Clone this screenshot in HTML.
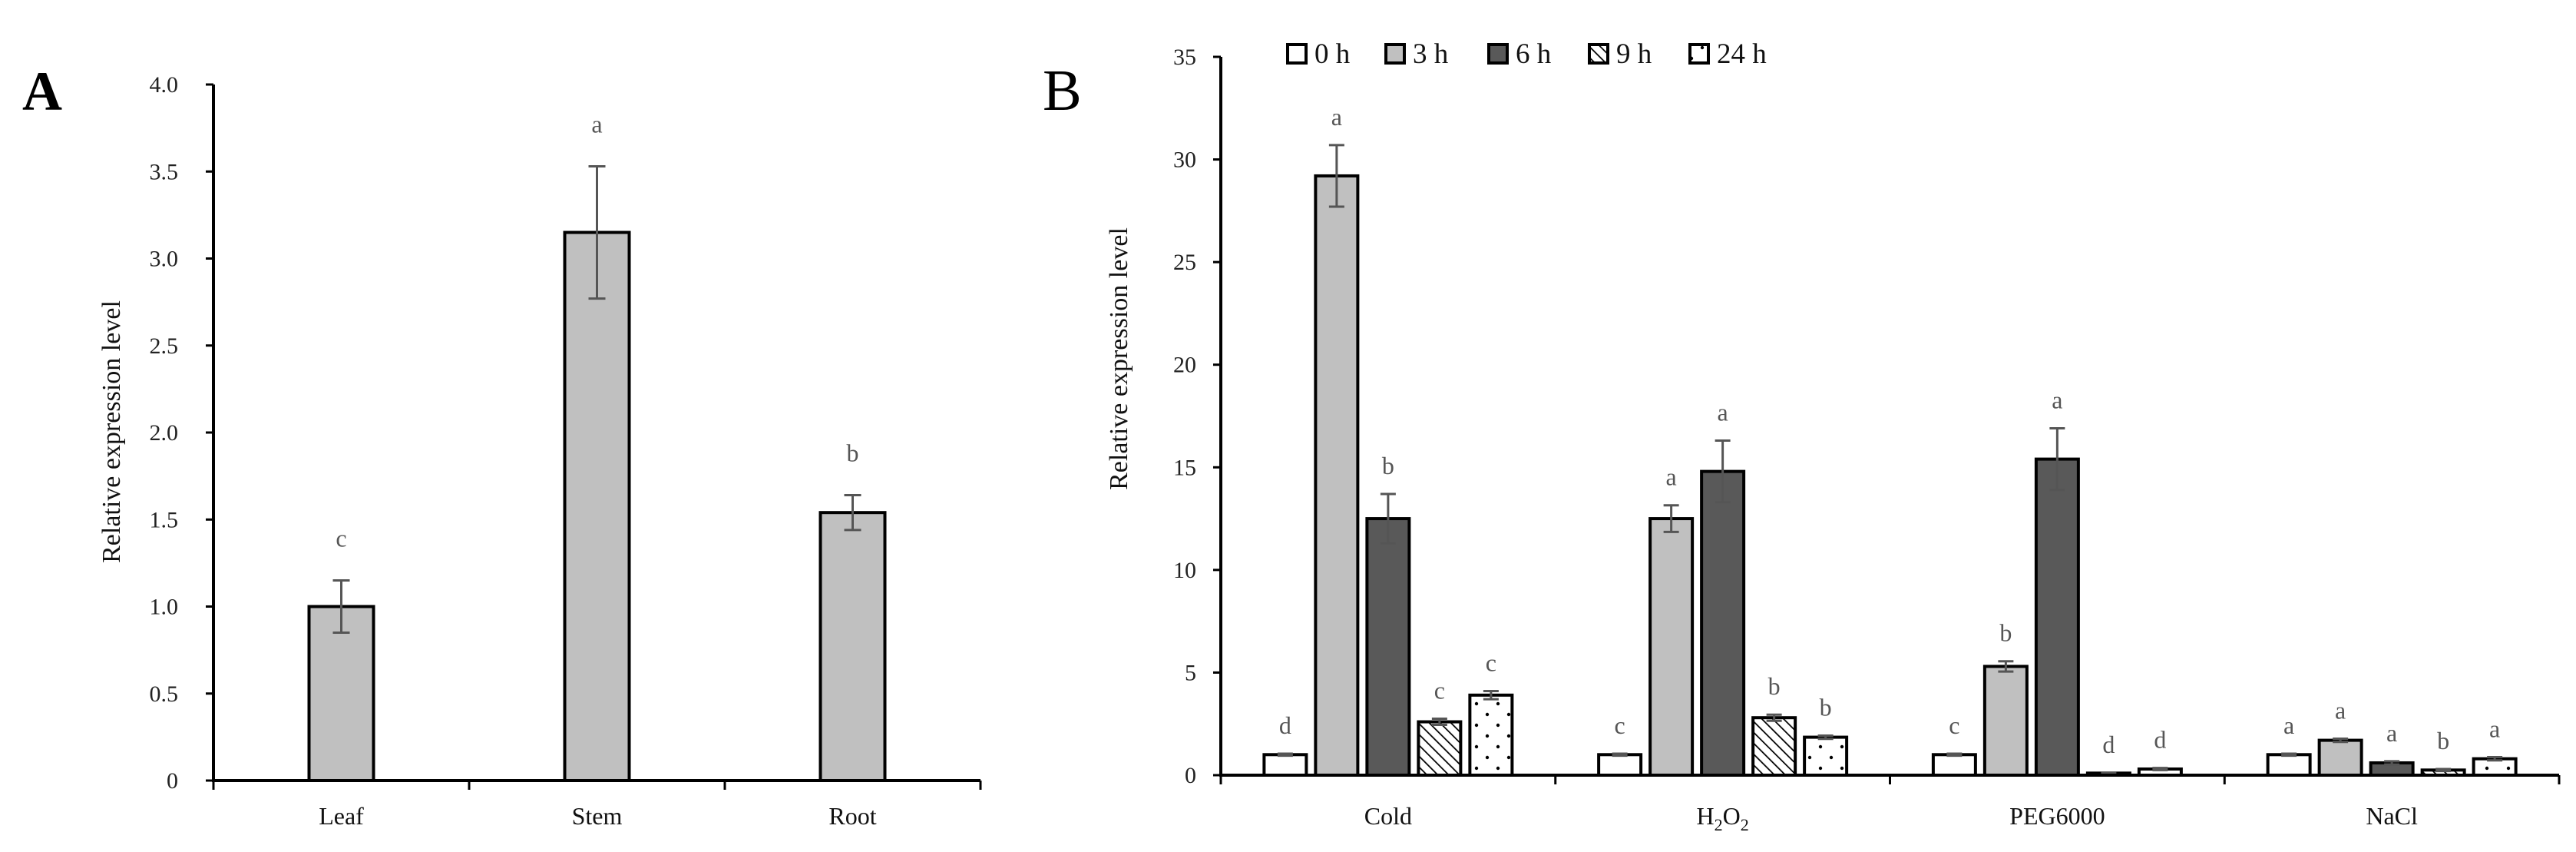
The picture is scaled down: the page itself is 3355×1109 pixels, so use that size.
<!DOCTYPE html>
<html><head><meta charset="utf-8"><style>
html,body{margin:0;padding:0;background:#fff;}
svg{display:block;font-family:"Liberation Serif","DejaVu Serif",serif;}
</style></head><body>
<svg id="fig" width="3355" height="1109" viewBox="0 0 3355 1109" xmlns="http://www.w3.org/2000/svg">
<defs>
<pattern id="hatch" patternUnits="userSpaceOnUse" width="10" height="10" patternTransform="rotate(-45)">
<rect width="10" height="10" fill="#fff"/><line x1="0" y1="0" x2="0" y2="10" stroke="#000" stroke-width="3.5"/></pattern>
<pattern id="dots" patternUnits="userSpaceOnUse" width="28" height="28">
<rect width="28" height="28" fill="#fff"/><circle cx="5" cy="6" r="2.2" fill="#000"/><circle cx="19" cy="20" r="2.2" fill="#000"/></pattern>
</defs>
<g id="chartA"></g>
<g id="chartB"></g>
</svg>
<script>
// ---- Chart A data ----
const aCategories = ["Leaf","Stem","Root"];
const aValues = [1.0, 3.15, 1.54];
const aErrors = [0.15, 0.38, 0.10];
const aLetters = ["c","a","b"];
const aTicks = [0,0.5,1.0,1.5,2.0,2.5,3.0,3.5,4.0];
const aTickLabels = ["0","0.5","1.0","1.5","2.0","2.5","3.0","3.5","4.0"];
// ---- Chart B data ----
const bCategories = ["Cold","H2O2","PEG6000","NaCl"];
const bSeries = ["0 h","3 h","6 h","9 h","24 h"];
const b0h = [1.0, 1.0, 1.0, 1.0];
const b3h = [29.2, 12.5, 5.3, 1.7];
const b6h = [12.5, 14.8, 15.4, 0.6];
const b9h = [2.6, 2.8, 0.1, 0.25];
const b24h = [3.9, 1.85, 0.3, 0.8];
const bErr0h = [0.05, 0.05, 0.05, 0.05];
const bErr3h = [1.5, 0.65, 0.25, 0.08];
const bErr6h = [1.2, 1.5, 1.5, 0.08];
const bErr9h = [0.15, 0.15, 0.02, 0.05];
const bErr24h = [0.2, 0.08, 0.05, 0.08];
const bLet0h = ["d","c","c","a"];
const bLet3h = ["a","a","b","a"];
const bLet6h = ["b","a","a","a"];
const bLet9h = ["c","b","d","b"];
const bLet24h = ["c","b","d","a"];
const bTicks = [0,5,10,15,20,25,30,35];

const NS="http://www.w3.org/2000/svg";
function mk(parent,tag,attrs,text){const e=document.createElementNS(NS,tag);for(const k in attrs)e.setAttribute(k,attrs[k]);if(text!==undefined)e.textContent=text;parent.appendChild(e);return e;}

// ---------- Chart A ----------
(function(){
const g=document.getElementById('chartA');
const x0=278,x1=1277,y0=1016,yTop=110,max=4;
const y=v=>y0-(v/max)*(y0-yTop);
const cw=(x1-x0)/aCategories.length;
let t;
t=mk(g,'text',{x:29,y:143,'font-size':72,'font-weight':'bold'},'A');

aTicks.forEach((v,i)=>{
 const l=mk(g,'line',{x1:x0-10,x2:x0,y1:y(v),y2:y(v),stroke:'#000','stroke-width':3});
 
 const tl=mk(g,'text',{x:232,y:y(v)+10,'font-size':30,'text-anchor':'end',fill:'#222'},aTickLabels[i]);
 
});
t=mk(g,'text',{x:0,y:0,'font-size':34,'text-anchor':'middle',transform:'translate(156,562) rotate(-90)',fill:'#111'},'Relative expression level');

for(let i=0;i<=aCategories.length;i++){
 const l=mk(g,'line',{x1:x0+i*cw,x2:x0+i*cw,y1:y0,y2:y0+12,stroke:'#000','stroke-width':3});
 
}
aCategories.forEach((c,i)=>{
 const cx=x0+cw*(i+0.5),bw=84;
 const r=mk(g,'rect',{x:cx-bw/2,y:y(aValues[i]),width:bw,height:y0-y(aValues[i]),fill:'#c0c0c0',stroke:'#000','stroke-width':4});
 
 const eT=y(aValues[i]+aErrors[i]),eB=y(aValues[i]-aErrors[i]);
 const e=mk(g,'path',{d:`M${cx},${eT}V${eB}M${cx-11},${eT}H${cx+11}M${cx-11},${eB}H${cx+11}`,stroke:'#555','stroke-width':3,fill:'none'});
 
 const lt=mk(g,'text',{x:cx,y:eT-44,'font-size':32,'text-anchor':'middle',fill:'#555'},aLetters[i]);
 
 const cl=mk(g,'text',{x:cx,y:1073,'font-size':32,'text-anchor':'middle',fill:'#111'},c);
 
});
const ax=mk(g,'path',{d:`M${x0},${yTop}V${y0}H${x1}`,stroke:'#000','stroke-width':4,fill:'none'});

})();

// ---------- Chart B ----------
(function(){
const g=document.getElementById('chartB');
const x0=1590,x1=3333,y0=1009,yTop=74,max=35;
const y=v=>y0-(v/max)*(y0-yTop);
const cw=(x1-x0)/bCategories.length;
const vals=[b0h,b3h,b6h,b9h,b24h];
const errs=[bErr0h,bErr3h,bErr6h,bErr9h,bErr24h];
const lets=[bLet0h,bLet3h,bLet6h,bLet9h,bLet24h];
const fills=['#fff','#c0c0c0','#595959','url(#hatch)','url(#dots)'];
let t;
t=mk(g,'text',{x:1358,y:143,'font-size':76},'B');

bTicks.forEach(v=>{
 const l=mk(g,'line',{x1:x0-10,x2:x0,y1:y(v),y2:y(v),stroke:'#000','stroke-width':3});
 
 const tl=mk(g,'text',{x:1558,y:y(v)+10,'font-size':30,'text-anchor':'end',fill:'#222'},String(v));
 
});
t=mk(g,'text',{x:0,y:0,'font-size':34,'text-anchor':'middle',transform:'translate(1468,467) rotate(-90)',fill:'#111'},'Relative expression level');

for(let i=0;i<=bCategories.length;i++){
 const l=mk(g,'line',{x1:x0+i*cw,x2:x0+i*cw,y1:y0,y2:y0+12,stroke:'#000','stroke-width':3});
 
}
const bw=55,pitch=67;
bCategories.forEach((c,i)=>{
 const cx=x0+cw*(i+0.5);
 vals.forEach((arr,s)=>{
  const bx=cx-2*pitch+s*pitch-bw/2,v=arr[i];
  const r=mk(g,'rect',{x:bx,y:y(v),width:bw,height:Math.max(y0-y(v),1),fill:fills[s],stroke:'#000','stroke-width':4});
  
  
  const bc=bx+bw/2,eT=y(v+errs[s][i]),eB=y(Math.max(v-errs[s][i],0));
  const e=mk(g,'path',{d:`M${bc},${eT}V${eB}M${bc-10},${eT}H${bc+10}M${bc-10},${eB}H${bc+10}`,stroke:'#555','stroke-width':3,fill:'none'});
  
  const lt=mk(g,'text',{x:bc,y:eT-26,'font-size':32,'text-anchor':'middle',fill:'#555'},lets[s][i]);
  
 });
 let cl;
 if(c==='H2O2'){
  cl=mk(g,'text',{x:cx,y:1073,'font-size':32,'text-anchor':'middle',fill:'#111'});
  mk(cl,'tspan',{},'H');mk(cl,'tspan',{'font-size':22,dy:8},'2');mk(cl,'tspan',{dy:-8},'O');mk(cl,'tspan',{'font-size':22,dy:8},'2');
 } else cl=mk(g,'text',{x:cx,y:1073,'font-size':32,'text-anchor':'middle',fill:'#111'},c);
 
});
const ax=mk(g,'path',{d:`M${x0},${yTop}V${y0}H${x1}`,stroke:'#000','stroke-width':4,fill:'none'});

const legX=[1675,1803,1937,2068,2199];
bSeries.forEach((s,i)=>{
 const r=mk(g,'rect',{x:legX[i]+2,y:58,width:24,height:24,fill:fills[i],stroke:'#000','stroke-width':4});
 
 const tx=mk(g,'text',{x:legX[i]+37,y:82,'font-size':37,fill:'#111'},s);
 
});
})();
</script>
</body></html>
